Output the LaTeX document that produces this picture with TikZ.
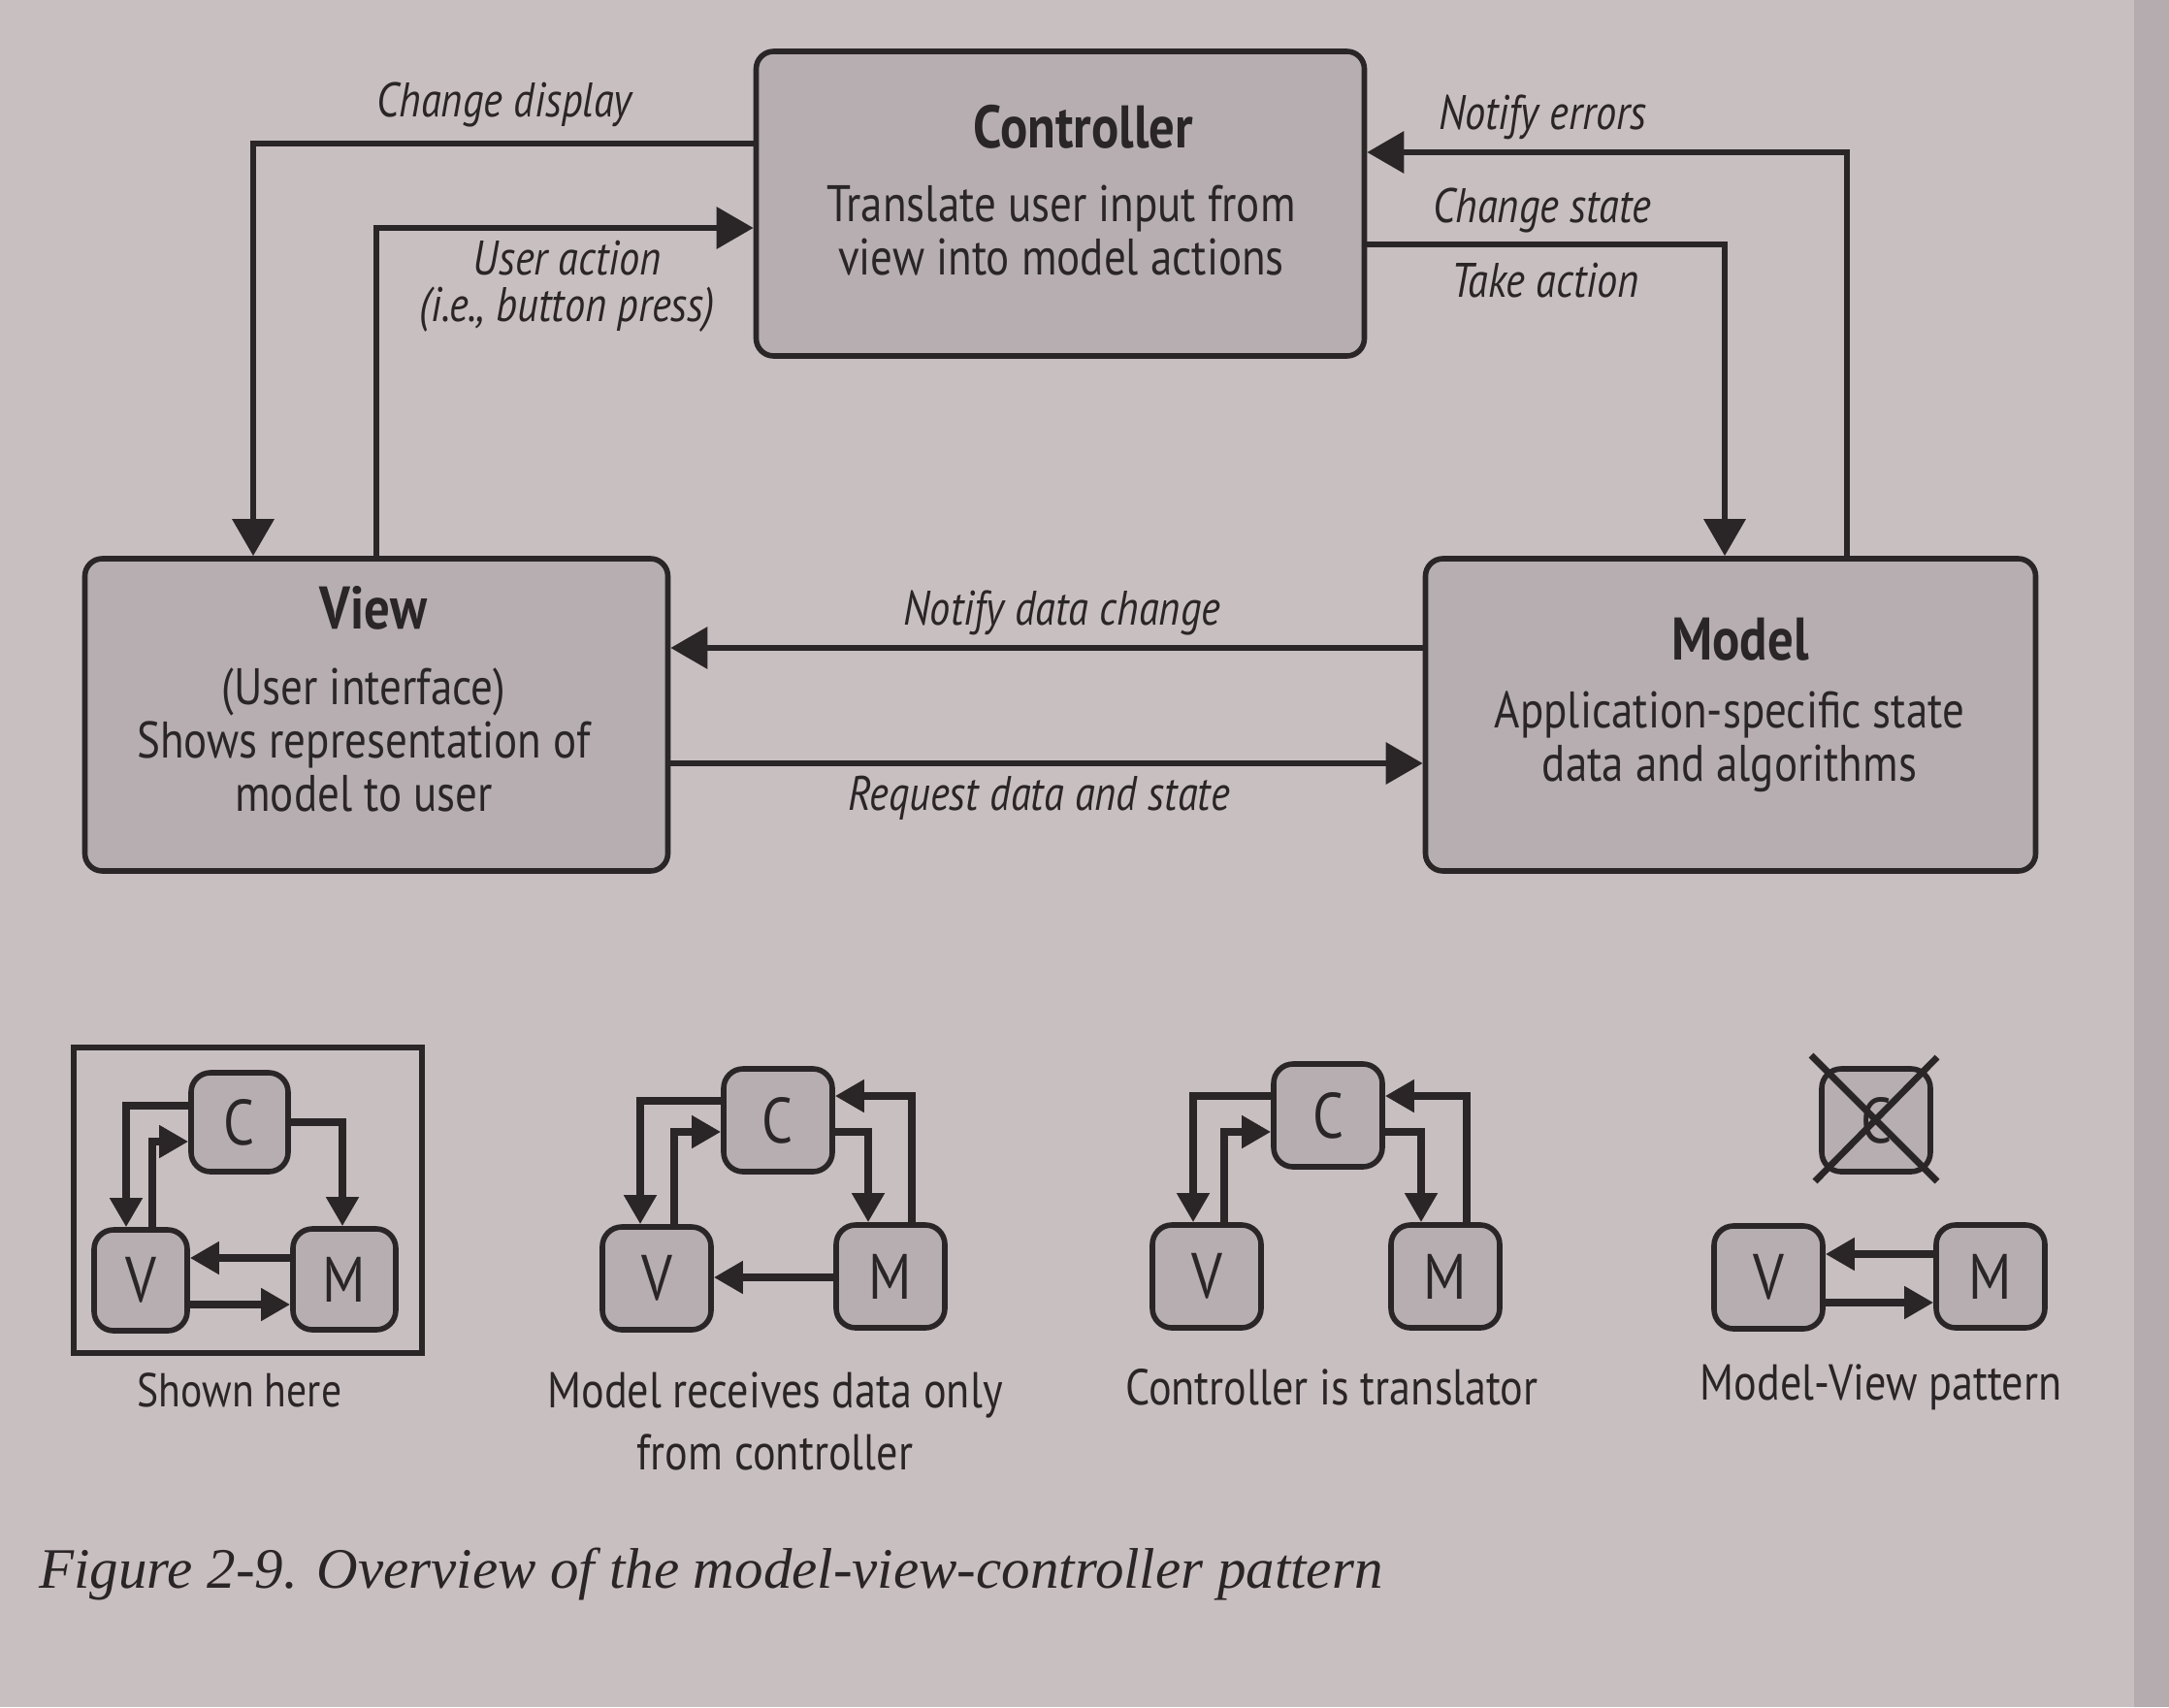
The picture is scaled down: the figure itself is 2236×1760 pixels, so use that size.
\documentclass[tikz,border=0pt]{standalone}
\usepackage{fontspec}
\setmainfont{PT Sans}[FakeStretch=0.85]
\newfontfamily\capfont{Liberation Serif}
\usetikzlibrary{arrows.meta}
\definecolor{bg}{RGB}{200,191,193}
\definecolor{boxfill}{RGB}{182,174,176}
\definecolor{ink}{RGB}{42,37,39}
\definecolor{edge}{RGB}{180,172,174}
\tikzset{
 bigbox/.style={draw=ink, fill=boxfill, line width=2.8pt, rounded corners=9pt, inner sep=0pt},
 conn/.style={draw=ink, line width=3.2pt, -{Triangle[length=19pt,width=21pt]}},
 sbox/.style={draw=ink, fill=boxfill, line width=2.8pt, rounded corners=10pt, minimum width=56pt, minimum height=53pt, inner sep=0pt, text=ink, font=\fontsize{33}{33}\selectfont},
 sconn/.style={draw=ink, line width=3.8pt, -{Triangle[length=15pt,width=16pt]}},
 ttl/.style={font=\bfseries\fontsize{31}{34}\selectfont, text=ink, inner sep=0pt},
 bodytxt/.style={font=\fontsize{26.5}{27.5}\selectfont, text=ink, align=center, inner sep=0pt},
 lbl/.style={font=\itshape\fontsize{25}{24}\selectfont, text=ink, inner sep=0pt, align=center},
 sublbl/.style={font=\fontsize{26}{32}\selectfont, text=ink, inner sep=0pt, align=center},
}
\begin{document}
\begin{tikzpicture}[x=0.5pt,y=-0.5pt]
\fill[bg] (0,0) rectangle (2236,1760);
\fill[edge] (2200,0) rectangle (2236,1760);
\useasboundingbox (0,0) rectangle (2236,1760);

% main boxes
\node[bigbox, minimum width=313.5pt, minimum height=157pt] (ctrl) at (1093,210) {};
\node[bigbox, minimum width=300.5pt, minimum height=161pt] (view) at (388,737) {};
\node[bigbox, minimum width=314.5pt, minimum height=161pt] (model) at (1784,737) {};

\node[ttl] (ctrlT) at (1117,131) {Controller};
\node[bodytxt] (ctrlB) at (1094,238) {Translate user input from\\view into model actions};
\node[ttl] (viewT) at (385,627) {View};
\node[bodytxt] (viewB) at (375,763) {(User interface)\\Shows representation of\\model to user};
\node[ttl] (modelT) at (1794,659) {Model};
\node[bodytxt] (modelB) at (1783,765) {Application-specific state\\data and algorithms};

% connectors
\coordinate (cd) at (261,148);
\coordinate (ua) at (388,235);
\coordinate (ne) at (1904,157);
\coordinate (cs) at (1778,252);
\coordinate (nd) at (1100,668);
\coordinate (rd) at (1100,787);
\draw[conn] (cd -| ctrl.west) -- (cd) -- (cd |- view.north);
\draw[conn] (ua |- view.north) -- (ua) -- (ua -| ctrl.west);
\draw[conn] (ne |- model.north) -- (ne) -- (ne -| ctrl.east);
\draw[conn] (cs -| ctrl.east) -- (cs) -- (cs |- model.north);
\draw[conn] (nd -| model.west) -- (nd -| view.east);
\draw[conn] (rd -| view.east) -- (rd -| model.west);

\node[lbl] (lcd) at (520,108) {Change display};
\node[lbl] (lua) at (585,295) {User action\\(i.e., button press)};
\node[lbl] (lne) at (1590,121) {Notify errors};
\node[lbl] (lcs) at (1590,217) {Change state};
\node[lbl] (lta) at (1593,289) {Take action};
\node[lbl] (lnd) at (1095,632) {Notify data change};
\node[lbl] (lrd) at (1071,823) {Request data and state};

% ---- small diagram 1
\node[draw=ink, line width=2.6pt, minimum width=179.5pt, minimum height=157.5pt, inner sep=0pt] (frame1) at (255.5,1237.5) {};
\node[sbox, minimum width=50pt, minimum height=51pt] (c1) at (247,1157) {C};
\node[sbox, minimum width=48pt, minimum height=52pt] (v1) at (145,1320) {V};
\node[sbox, minimum width=53pt, minimum height=52pt] (m1) at (355,1319) {M};
\coordinate (c1a) at (130,1140);
\coordinate (c1b) at (157,1177);
\coordinate (c1c) at (353,1157);
\coordinate (c1d) at (250,1297);
\coordinate (c1e) at (250,1345);
\draw[sconn] (c1a -| c1.west) -- (c1a) -- (c1a |- v1.north);
\draw[sconn] (c1b |- v1.north) -- (c1b) -- (c1b -| c1.west);
\draw[sconn] (c1c -| c1.east) -- (c1c) -- (c1c |- m1.north);
\draw[sconn] (c1d -| m1.west) -- (c1d -| v1.east);
\draw[sconn] (c1e -| v1.east) -- (c1e -| m1.west);
\node[sublbl, font=\fontsize{24.5}{32}\selectfont] (t1) at (247,1433) {Shown here};

% ---- small diagram 2
\node[sbox] (c2) at (802,1155) {C};
\node[sbox] (v2) at (677,1318) {V};
\node[sbox] (m2) at (918,1316) {M};
\coordinate (c2a) at (660,1135);
\coordinate (c2b) at (695,1167);
\coordinate (c2c) at (895,1167);
\coordinate (c2d) at (940,1130);
\coordinate (c2e) at (800,1317);
\draw[sconn] (c2a -| c2.west) -- (c2a) -- (c2a |- v2.north);
\draw[sconn] (c2b |- v2.north) -- (c2b) -- (c2b -| c2.west);
\draw[sconn] (c2c -| c2.east) -- (c2c) -- (c2c |- m2.north);
\draw[sconn] (c2d |- m2.north) -- (c2d) -- (c2d -| c2.east);
\draw[sconn] (c2e -| m2.west) -- (c2e -| v2.east);
\node[sublbl] (t2) at (799,1465) {Model receives data only\\from controller};

% ---- small diagram 3
\node[sbox] (c3) at (1369,1150) {C};
\node[sbox] (v3) at (1244,1316) {V};
\node[sbox] (m3) at (1490,1316) {M};
\coordinate (c3a) at (1230,1130);
\coordinate (c3b) at (1262,1167);
\coordinate (c3c) at (1465,1167);
\coordinate (c3d) at (1512,1130);
\draw[sconn] (c3a -| c3.west) -- (c3a) -- (c3a |- v3.north);
\draw[sconn] (c3b |- v3.north) -- (c3b) -- (c3b -| c3.west);
\draw[sconn] (c3c -| c3.east) -- (c3c) -- (c3c |- m3.north);
\draw[sconn] (c3d |- m3.north) -- (c3d) -- (c3d -| c3.east);
\node[sublbl] (t3) at (1373,1430) {Controller is translator};

% ---- small diagram 4
\node[sbox] (c4) at (1934,1155) {C};
\draw[draw=ink, line width=3.4pt] (c4.center) ++(-67,-67) -- ++(130,130);
\draw[draw=ink, line width=3.4pt] (c4.center) ++(63,-65) -- ++(-126,128);
\node[sbox] (v4) at (1823,1317) {V};
\node[sbox] (m4) at (2052,1316) {M};
\coordinate (c4d) at (1940,1293);
\coordinate (c4e) at (1940,1343);
\draw[sconn] (c4d -| m4.west) -- (c4d -| v4.east);
\draw[sconn] (c4e -| v4.east) -- (c4e -| m4.west);
\node[sublbl] (t4) at (1939,1430) {Model-View pattern};

% caption
\node[anchor=west, inner sep=0pt, text=ink, font=\capfont\itshape\fontsize{29.5}{32}\selectfont] (fig) at (40,1623) {Figure 2-9. Overview of the model-view-controller pattern};
\end{tikzpicture}
\end{document}
